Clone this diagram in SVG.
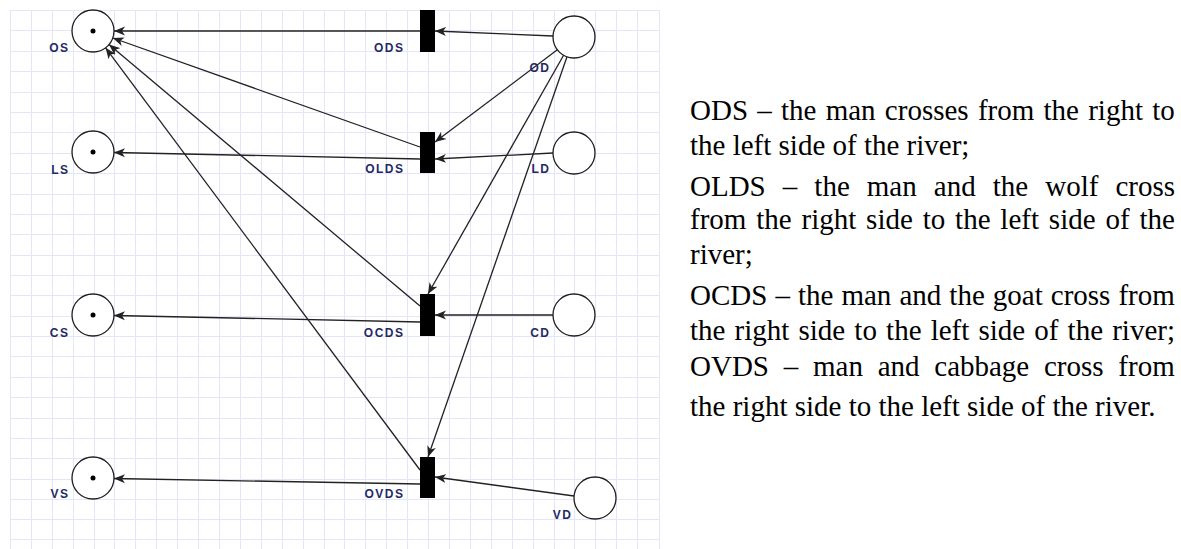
<svg xmlns="http://www.w3.org/2000/svg" width="1181" height="549" viewBox="0 0 1181 549">
  <style>
    .grid { stroke: #e4e4fb; stroke-width: 1; fill: none; }
    .place { fill: #ffffff; stroke: #1e1e1e; stroke-width: 1.3; }
    .token { fill: #000000; }
    .bar { fill: #000000; }
    .lbl { font-family: "Liberation Sans", Arial, sans-serif; font-weight: bold; font-size: 12px; fill: #1f2a66; letter-spacing: 1.5px; text-anchor: end; }
    .arc { stroke: #222222; stroke-width: 1.3; fill: none; marker-end: url(#arrow); }
    .note { font-family: "Liberation Serif", "Times New Roman", serif; font-size: 29px; fill: #000000; }
  </style>
  <defs>
    <marker id="arrow" markerUnits="userSpaceOnUse" markerWidth="12" markerHeight="10" viewBox="0 0 12 10" refX="11" refY="5" orient="auto">
      <path d="M0,0.5 L11,5 L0,9.5 L3,5 Z" fill="#222222"/>
    </marker>
  </defs>

  <rect width="1181" height="549" fill="#ffffff"/>

  <!-- background grid -->
  <path class="grid" d="
    M10.5,10 V549 M31.5,10 V549 M52.5,10 V549 M73.5,10 V549 M94.5,10 V549 M114.5,10 V549
    M135.5,10 V549 M156.5,10 V549 M177.5,10 V549 M198.5,10 V549 M219.5,10 V549 M240.5,10 V549
    M261.5,10 V549 M282.5,10 V549 M303.5,10 V549 M324.5,10 V549 M344.5,10 V549 M365.5,10 V549
    M386.5,10 V549 M407.5,10 V549 M428.5,10 V549 M449.5,10 V549 M470.5,10 V549 M491.5,10 V549
    M512.5,10 V549 M533.5,10 V549 M554.5,10 V549 M574.5,10 V549 M595.5,10 V549 M616.5,10 V549
    M637.5,10 V549 M659.5,10 V549
    M10,10.5 H660 M10,30.5 H660 M10,51.5 H660 M10,71.5 H660 M10,92.5 H660 M10,112.5 H660
    M10,132.5 H660 M10,153.5 H660 M10,173.5 H660 M10,194.5 H660 M10,214.5 H660 M10,234.5 H660
    M10,255.5 H660 M10,275.5 H660 M10,295.5 H660 M10,316.5 H660 M10,336.5 H660 M10,356.5 H660
    M10,377.5 H660 M10,397.5 H660 M10,418.5 H660 M10,438.5 H660 M10,458.5 H660 M10,479.5 H660
    M10,499.5 H660 M10,519.5 H660 M10,539.5 H660"/>

  <!-- arcs -->
  <g id="connectors">
    <path class="arc" d="M420,31 L114,31"/>
    <path class="arc" d="M553,36 L435,31"/>
    <path class="arc" d="M420,147 L112.8,38"/>
    <path class="arc" d="M420,159 L114,152.5"/>
    <path class="arc" d="M557,50 L435,142"/>
    <path class="arc" d="M553,153 L435,159"/>
    <path class="arc" d="M420,306 L109,44.5"/>
    <path class="arc" d="M420,322 L114,315.5"/>
    <path class="arc" d="M563.6,55.2 L428,294"/>
    <path class="arc" d="M553,315 L435,315"/>
    <path class="arc" d="M420,470 L105.6,47.8"/>
    <path class="arc" d="M420,484 L114,478.5"/>
    <path class="arc" d="M567,56.8 L428,457"/>
    <path class="arc" d="M574,496 L435,477"/>
  </g>

  <!-- places on the left bank, each holding a token -->
  <g id="OS"><circle class="place" cx="93" cy="31" r="21"/><circle class="token" cx="93" cy="31" r="2.5"/><text class="lbl" x="69.5" y="52">OS</text></g>
  <g id="LS"><circle class="place" cx="93" cy="152" r="21"/><circle class="token" cx="93" cy="152" r="2.5"/><text class="lbl" x="69.5" y="174">LS</text></g>
  <g id="CS"><circle class="place" cx="93" cy="315" r="21"/><circle class="token" cx="93" cy="315" r="2.5"/><text class="lbl" x="69.5" y="337">CS</text></g>
  <g id="VS"><circle class="place" cx="93" cy="478" r="21"/><circle class="token" cx="93" cy="478" r="2.5"/><text class="lbl" x="69.5" y="498">VS</text></g>

  <!-- transitions -->
  <g id="ODS"><rect class="bar" x="420" y="10" width="15" height="42"/><text class="lbl" x="404.5" y="52">ODS</text></g>
  <g id="OLDS"><rect class="bar" x="420" y="132" width="15" height="41"/><text class="lbl" x="404.5" y="173">OLDS</text></g>
  <g id="OCDS"><rect class="bar" x="420" y="294" width="15" height="42"/><text class="lbl" x="404.5" y="337">OCDS</text></g>
  <g id="OVDS"><rect class="bar" x="420" y="457" width="15" height="41"/><text class="lbl" x="404.5" y="498">OVDS</text></g>

  <!-- places on the right bank -->
  <g id="OD"><circle class="place" cx="574" cy="37" r="21"/><text class="lbl" x="550.5" y="72">OD</text></g>
  <g id="LD"><circle class="place" cx="574" cy="153" r="21"/><text class="lbl" x="550.5" y="173">LD</text></g>
  <g id="CD"><circle class="place" cx="574" cy="315" r="21"/><text class="lbl" x="550.5" y="337">CD</text></g>
  <g id="VD"><circle class="place" cx="595" cy="498" r="21"/><text class="lbl" x="572.5" y="519">VD</text></g>

  <!-- legend -->
  <g id="legend">
    <text class="note" x="690" y="120" word-spacing="2">ODS – the man crosses from the right to</text>
    <text class="note" x="690" y="155">the left side of the river;</text>
    <text class="note" x="690" y="196" word-spacing="9.8">OLDS – the man and the wolf cross</text>
    <text class="note" x="690" y="229" word-spacing="2.6">from the right side to the left side of the</text>
    <text class="note" x="690" y="264">river;</text>
    <text class="note" x="690" y="305" word-spacing="0.8">OCDS – the man and the goat cross from</text>
    <text class="note" x="690" y="340" word-spacing="1.9">the right side to the left side of the river;</text>
    <text class="note" x="690" y="376" word-spacing="7.5">OVDS – man and cabbage cross from</text>
    <text class="note" x="690" y="416">the right side to the left side of the river.</text>
  </g>
</svg>
